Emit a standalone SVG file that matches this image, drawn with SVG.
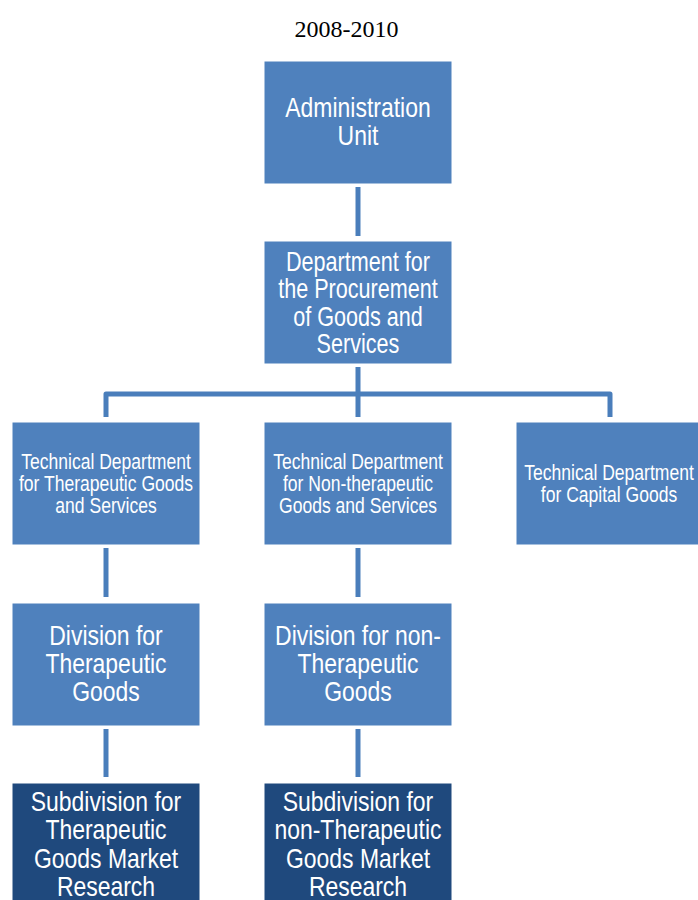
<svg xmlns="http://www.w3.org/2000/svg" width="698" height="900" viewBox="0 0 698 900">
<style>
.box{fill:#4F81BD;stroke:#ffffff;stroke-width:1}
.dark{fill:#1F497D;stroke:#ffffff;stroke-width:1}
.t{font-family:"Liberation Sans",Arial,sans-serif;fill:#ffffff;text-anchor:middle}
.big{font-size:28px}
.mid{font-size:27px}
.small{font-size:21.4px}
.title{font-family:"Liberation Serif","Times New Roman",serif;font-size:24px;fill:#000;text-anchor:middle}
.c{stroke:#4A7EBB;stroke-width:5;fill:none;stroke-linejoin:round}
</style>
<rect width="698" height="900" fill="#ffffff"/>
<text class="title" x="346.5" y="37">2008-2010</text>
<g id="connectors">
<path class="c" d="M358 187V236"/>
<path class="c" d="M358 367V394M106 417V394H610V417M358 394V417"/>
<path class="c" d="M106 548V597"/>
<path class="c" d="M358 548V597"/>
<path class="c" d="M106 729V777"/>
<path class="c" d="M358 729V777"/>
</g>
<g id="admin">
<rect class="box" x="264" y="61" width="188" height="123"/>
<g transform="translate(358,0) scale(0.82,1)">
<text class="t big" x="0" y="117">Administration</text>
<text class="t big" x="0" y="145">Unit</text>
</g>
</g>
<g id="procurement">
<rect class="box" x="264" y="241" width="188" height="123"/>
<g transform="translate(358,0) scale(0.8,1)">
<text class="t mid" x="0" y="271">Department for</text>
<text class="t mid" x="0" y="298">the Procurement</text>
<text class="t mid" x="0" y="326">of Goods and</text>
<text class="t mid" x="0" y="353">Services</text>
</g>
</g>
<g id="tech-therapeutic">
<rect class="box" x="12" y="422" width="188" height="123"/>
<g transform="translate(106,0) scale(0.82,1)">
<text class="t small" x="0" y="469">Technical Department</text>
<text class="t small" x="0" y="491">for Therapeutic Goods</text>
<text class="t small" x="0" y="513">and Services</text>
</g>
</g>
<g id="tech-nontherapeutic">
<rect class="box" x="264" y="422" width="188" height="123"/>
<g transform="translate(358,0) scale(0.82,1)">
<text class="t small" x="0" y="469">Technical Department</text>
<text class="t small" x="0" y="491">for Non-therapeutic</text>
<text class="t small" x="0" y="513">Goods and Services</text>
</g>
</g>
<g id="tech-capital">
<rect class="box" x="516" y="422" width="188" height="123"/>
<g transform="translate(609,0) scale(0.82,1)">
<text class="t small" x="0" y="480">Technical Department</text>
<text class="t small" x="0" y="502">for Capital Goods</text>
</g>
</g>
<g id="div-therapeutic">
<rect class="box" x="12" y="603" width="188" height="123"/>
<g transform="translate(106,0) scale(0.82,1)">
<text class="t big" x="0" y="645">Division for</text>
<text class="t big" x="0" y="673">Therapeutic</text>
<text class="t big" x="0" y="701">Goods</text>
</g>
</g>
<g id="div-nontherapeutic">
<rect class="box" x="264" y="603" width="188" height="123"/>
<g transform="translate(358,0) scale(0.82,1)">
<text class="t big" x="0" y="645">Division for non-</text>
<text class="t big" x="0" y="673">Therapeutic</text>
<text class="t big" x="0" y="701">Goods</text>
</g>
</g>
<g id="sub-therapeutic">
<rect class="dark" x="12" y="783" width="188" height="130"/>
<g transform="translate(106,0) scale(0.82,1)">
<text class="t big" x="0" y="811">Subdivision for</text>
<text class="t big" x="0" y="839">Therapeutic</text>
<text class="t big" x="0" y="868">Goods Market</text>
<text class="t big" x="0" y="896">Research</text>
</g>
</g>
<g id="sub-nontherapeutic">
<rect class="dark" x="264" y="783" width="188" height="130"/>
<g transform="translate(358,0) scale(0.82,1)">
<text class="t big" x="0" y="811">Subdivision for</text>
<text class="t big" x="0" y="839">non-Therapeutic</text>
<text class="t big" x="0" y="868">Goods Market</text>
<text class="t big" x="0" y="896">Research</text>
</g>
</g>
</svg>
